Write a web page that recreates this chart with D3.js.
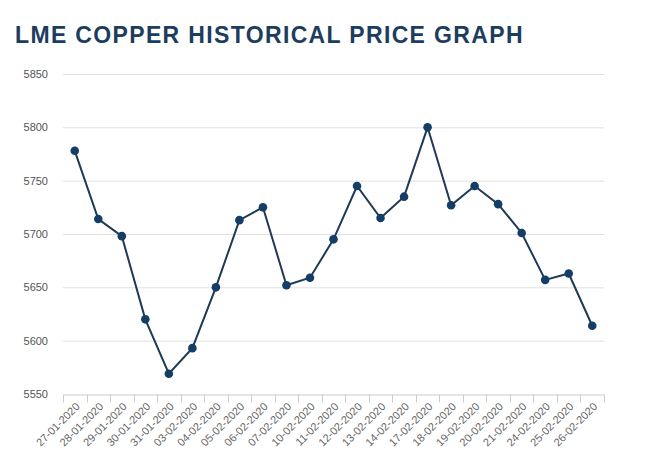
<!DOCTYPE html>
<html><head><meta charset="utf-8">
<script src="https://cdn.jsdelivr.net/npm/d3@7"></script>
<style>body{margin:0;background:#fff;}svg{display:block;}</style>
</head><body>
<svg id="c" width="659" height="466"></svg>
<script>
const title = "LME COPPER HISTORICAL PRICE GRAPH";
const dates = ["27-01-2020","28-01-2020","29-01-2020","30-01-2020","31-01-2020","03-02-2020","04-02-2020","05-02-2020","06-02-2020","07-02-2020","10-02-2020","11-02-2020","12-02-2020","13-02-2020","14-02-2020","17-02-2020","18-02-2020","19-02-2020","20-02-2020","21-02-2020","24-02-2020","25-02-2020","26-02-2020"];
const prices = [5778,5714,5698,5620,5569,5593,5650,5713,5725,5652,5659,5695,5745,5715,5735,5800,5727,5745,5728,5701,5657,5663,5614];
const yTicks = [5550,5600,5650,5700,5750,5800,5850];

const svg = d3.select("#c");
const mLeft = 63, mRight = 604, mTop = 74, mBottom = 394;
const x = d3.scaleBand().domain(dates).range([mLeft, mRight]);
const y = d3.scaleLinear().domain([5550, 5850]).range([mBottom, mTop]);

svg.append("text").attr("x", 15).attr("y", 43)
  .attr("font-family", "Liberation Sans, Arial, sans-serif")
  .attr("font-weight", "bold").attr("font-size", 23)
  .attr("letter-spacing", 1.35).attr("fill", "#1c3d5e").text(title);

// grid
svg.append("g").selectAll("line").data(yTicks.filter(d => d !== 5550)).join("line")
  .attr("x1", mLeft).attr("x2", mRight)
  .attr("y1", d => y(d) + 0.5).attr("y2", d => y(d) + 0.5)
  .attr("stroke", "#e0e0e0").attr("stroke-width", 1);

// y axis labels
const ya = svg.append("g").attr("transform", `translate(${mLeft},0)`)
  .call(d3.axisLeft(y).tickValues(yTicks).tickSize(0).tickPadding(15).tickFormat(d3.format("d")));
ya.select(".domain").remove();
ya.selectAll("text").attr("font-family", "Liberation Sans, Arial, sans-serif")
  .attr("font-size", 11).attr("fill", "#555");

// x axis
const xa = svg.append("g").attr("transform", `translate(0,${mBottom + 0.5})`)
  .call(d3.axisBottom(x).tickSizeOuter(0).tickSizeInner(0).tickPadding(0));
xa.select(".domain").attr("stroke", "#c8ccd4");
xa.selectAll(".tick line").remove();
const bounds = dates.map(d => x(d)).concat([mRight]);
xa.append("g").selectAll("line").data(bounds).join("line")
  .attr("x1", d => Math.round(d) + 0.5).attr("x2", d => Math.round(d) + 0.5)
  .attr("y1", 0).attr("y2", 8).attr("stroke", "#c8ccd4");
xa.selectAll(".tick text")
  .attr("font-family", "Liberation Sans, Arial, sans-serif")
  .attr("font-size", 11).attr("fill", "#666")
  .attr("text-anchor", "end")
  .attr("transform", "translate(3,10) rotate(-45)")
  .attr("dy", "0.35em");

const cx = d => x(d) + x.bandwidth() / 2;
const data = dates.map((d, i) => ({d, v: prices[i]}));
svg.append("path").datum(data)
  .attr("d", d3.line().x(p => cx(p.d)).y(p => y(p.v)))
  .attr("fill", "none").attr("stroke", "#1e3a56").attr("stroke-width", 2);
svg.append("g").selectAll("circle").data(data).join("circle")
  .attr("cx", p => cx(p.d)).attr("cy", p => y(p.v)).attr("r", 4.3)
  .attr("fill", "#143e66");
</script>
</body></html>
